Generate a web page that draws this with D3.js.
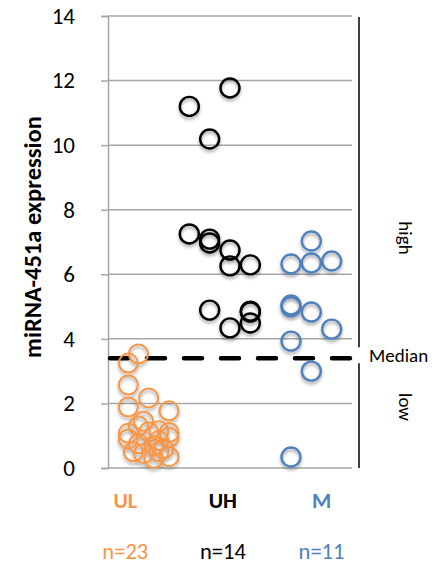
<!DOCTYPE html>
<html>
<head>
<meta charset="utf-8">
<script src="https://cdn.jsdelivr.net/npm/d3@7"></script>
<style>
  html, body { margin: 0; padding: 0; background: #fff; }
  svg { display: block; }
  text { font-family: Carlito, Lato, "Open Sans", sans-serif; }
</style>
</head>
<body>
<svg id="chart" width="438" height="569"></svg>
<script>
// Groups shown along the bottom
const groups = ["UL", "UH", "M"];
const groupCounts = [23, 14, 11];
const groupColors = ["#F79646", "#000000", "#4F81BD"];
const groupLabelX = [0.085, 0.565, 1.05];

// Jittered scatter positions (x) and miRNA-451a expression values (y), per group
const ulX = [0.15, 0.1, 0.1, 0.1, 0.2, 0.3, 0.175, 0.1, 0.1, 0.15, 0.2, 0.25, 0.3, 0.3, 0.15, 0.225, 0.25, 0.275, 0.125, 0.175, 0.225, 0.3, 0.25];
const ulY = [3.53, 3.25, 2.57, 1.89, 2.17, 1.77, 1.45, 1.08, 0.9, 1.3, 1.12, 1.15, 1.1, 0.95, 0.75, 0.7, 0.85, 0.6, 0.5, 0.45, 0.3, 0.35, 0.5];

const uhX = [0.4, 0.6, 0.5, 0.4, 0.5, 0.5, 0.6, 0.6, 0.7, 0.5, 0.7, 0.7, 0.7, 0.6];
const uhY = [11.2, 11.77, 10.19, 7.25, 7.09, 6.97, 6.75, 6.26, 6.29, 4.89, 4.83, 4.86, 4.49, 4.34];

const mX = [1.0, 0.9, 1.0, 1.1, 0.9, 0.9, 1.0, 1.1, 0.9, 1.0, 0.9];
const mY = [7.03, 6.32, 6.35, 6.41, 5.05, 4.99, 4.83, 4.3, 3.93, 3.0, 0.34];

const yTicks = [0, 2, 4, 6, 8, 10, 12, 14];
const medianValue = 3.4;

const svg = d3.select("#chart");

const x = d3.scaleLinear().domain([0, 1.2]).range([108, 352]);
const y = d3.scaleLinear().domain([0, 14]).range([468, 16]);

// soft shadow under the markers
const defs = svg.append("defs");
const f = defs.append("filter").attr("id", "shadow")
  .attr("x", "-50%").attr("y", "-50%").attr("width", "200%").attr("height", "200%");
f.append("feDropShadow").attr("dx", 0).attr("dy", 2.5).attr("stdDeviation", 1.6)
  .attr("flood-color", "#000").attr("flood-opacity", 0.35);

// horizontal gridlines
svg.append("g").selectAll("line").data(yTicks).join("line")
  .attr("x1", x(0)).attr("x2", x(1.2))
  .attr("y1", d => y(d)).attr("y2", d => y(d))
  .attr("stroke", "#A6A6A6").attr("stroke-width", 1.5);

// y axis
const yAxis = svg.append("g").attr("transform", `translate(${x(0)},0)`)
  .call(d3.axisLeft(y).tickValues(yTicks).tickSize(7).tickPadding(26).tickFormat(d3.format("d")));
yAxis.select(".domain").attr("stroke", "#A6A6A6").attr("stroke-width", 1.5);
yAxis.selectAll(".tick line").attr("stroke", "#A6A6A6").attr("stroke-width", 1.5);
yAxis.selectAll(".tick text")
  .attr("font-size", 23).attr("fill", "#000")
  .style("font-family", "Carlito, Lato, 'Open Sans', sans-serif");

// y axis title
svg.append("text")
  .attr("transform", `translate(35,237) rotate(-90)`)
  .attr("text-anchor", "middle").attr("dominant-baseline", "middle")
  .attr("font-size", 24.5).attr("font-weight", "bold").attr("fill", "#000")
  .text("miRNA-451a expression");

// median line
svg.append("line")
  .attr("x1", x(0) + 2).attr("x2", x(1.2))
  .attr("y1", y(medianValue)).attr("y2", y(medianValue))
  .attr("stroke", "#000").attr("stroke-width", 4.5)
  .attr("stroke-dasharray", "18 19").attr("stroke-linecap", "round");

// points
const series = [
  { xs: ulX, ys: ulY, color: groupColors[0], width: 2 },
  { xs: uhX, ys: uhY, color: groupColors[1], width: 2.4 },
  { xs: mX, ys: mY, color: groupColors[2], width: 2.4 }
];
series.forEach(s => {
  svg.append("g").attr("filter", "url(#shadow)")
    .selectAll("circle").data(s.ys.map((v, i) => [s.xs[i], v])).join("circle")
    .attr("cx", d => x(d[0])).attr("cy", d => y(d[1])).attr("r", 9.5)
    .attr("fill", "none").attr("stroke", s.color).attr("stroke-width", s.width);
});

// high / low brackets
const bx = 359;
svg.append("line").attr("x1", bx).attr("x2", bx)
  .attr("y1", y(14) + 1).attr("y2", y(medianValue) - 11)
  .attr("stroke", "#000").attr("stroke-width", 1.5);
svg.append("line").attr("x1", bx).attr("x2", bx)
  .attr("y1", y(medianValue) + 5).attr("y2", y(0))
  .attr("stroke", "#000").attr("stroke-width", 1.5);

svg.append("text").attr("x", 369).attr("y", y(medianValue) - 1)
  .attr("dominant-baseline", "middle").attr("font-size", 19).attr("fill", "#000")
  .text("Median");

svg.append("text")
  .attr("transform", `translate(404,238) rotate(90)`)
  .attr("text-anchor", "middle").attr("dominant-baseline", "middle")
  .attr("font-size", 19).attr("fill", "#000").text("high");
svg.append("text")
  .attr("transform", `translate(404,407) rotate(90)`)
  .attr("text-anchor", "middle").attr("dominant-baseline", "middle")
  .attr("font-size", 19).attr("fill", "#000").text("low");

// group names and counts
svg.append("g").selectAll("text").data(groups).join("text")
  .attr("x", (d, i) => x(groupLabelX[i])).attr("y", 503)
  .attr("text-anchor", "middle").attr("dominant-baseline", "middle")
  .attr("font-size", 22).attr("font-weight", "bold")
  .attr("fill", (d, i) => groupColors[i]).text(d => d);

svg.append("g").selectAll("text").data(groupCounts).join("text")
  .attr("x", (d, i) => x(groupLabelX[i])).attr("y", 554)
  .attr("text-anchor", "middle").attr("dominant-baseline", "middle")
  .attr("font-size", 22.5)
  .attr("fill", (d, i) => groupColors[i]).text(d => "n=" + d);
</script>
</body>
</html>
